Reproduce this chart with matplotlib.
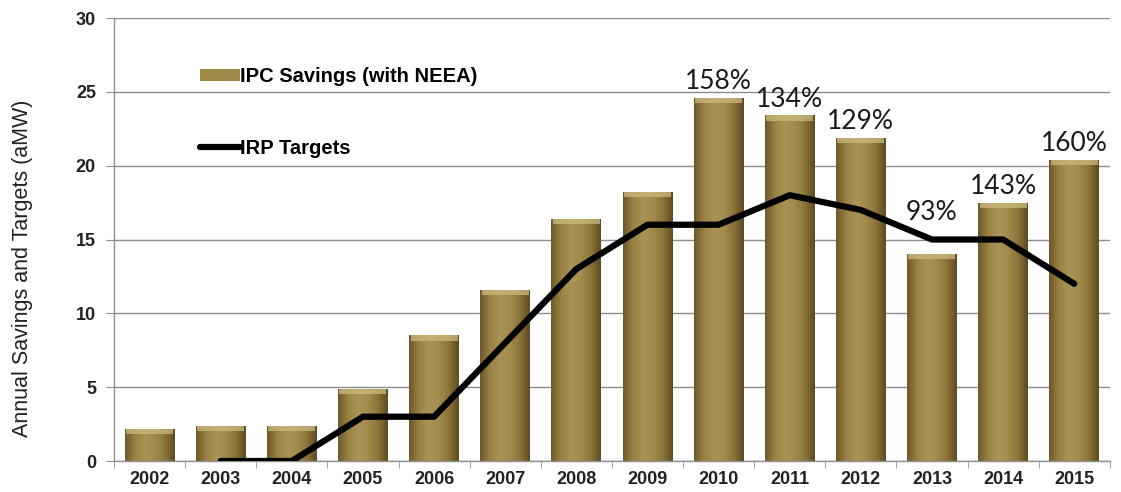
import numpy as np
import matplotlib
matplotlib.use("Agg")
import matplotlib.pyplot as plt
from matplotlib.colors import LinearSegmentedColormap

years = ["2002", "2003", "2004", "2005", "2006", "2007", "2008",
         "2009", "2010", "2011", "2012", "2013", "2014", "2015"]
savings = [2.2, 2.4, 2.4, 4.9, 8.5, 11.6, 16.4, 18.2, 24.6, 23.4, 21.9, 14.0, 17.5, 20.4]
target_years = ["2003", "2004", "2005", "2006", "2007", "2008", "2009",
                "2010", "2011", "2012", "2013", "2014", "2015"]
targets = [0, 0, 3, 3, 8, 13, 16, 16, 18, 17, 15, 15, 12]
pct_years = ["2010", "2011", "2012", "2013", "2014", "2015"]
pct_labels = ["158%", "134%", "129%", "93%", "143%", "160%"]

fig = plt.figure(figsize=(11.21, 4.92), dpi=100)
ax = fig.add_axes([0.1017, 0.063, 0.8883, 0.9004])

x = np.arange(len(years))
tx = [years.index(y) for y in target_years]
target_by_year = dict(zip(target_years, targets))

bars = ax.bar(x, savings, width=0.7, color="#a08848", edgecolor="none",
              zorder=2, label="IPC Savings (with NEEA)")

# metallic shading across each bar
shade = LinearSegmentedColormap.from_list(
    "gold", ["#6e5a2a", "#9a8244", "#a99356", "#a38b4e", "#8d7539", "#5e4c22"])
grad = np.linspace(0, 1, 64).reshape(1, -1)
for b in bars:
    x0, w, h = b.get_x(), b.get_width(), b.get_height()
    im = ax.imshow(grad, cmap=shade, aspect="auto",
                   extent=(x0, x0 + w, 0, h), zorder=2.1)
    im.set_clip_path(b)
    # lighter bevel at the top of the bar
    cap = min(0.35, h * 0.3)
    ax.fill_between([x0 + 0.02, x0 + w - 0.02], h - cap, h,
                    color="#cdb980", alpha=0.75, zorder=2.2, lw=0)

ax.plot(tx, targets, color="black", lw=4.5, solid_capstyle="round",
        solid_joinstyle="round", zorder=3, label="IRP Targets")

# percentage of target achieved, placed above the bar (or above the line)
for yr, lab in zip(pct_years, pct_labels):
    i = years.index(yr)
    base = max(savings[i], target_by_year.get(yr, 0) + 0.7)
    ax.text(i, base + 0.25, lab, ha="center", va="bottom",
            fontsize=19, family="Lato", color="#1a1a1a", zorder=4)

ax.set_xlim(-0.5, len(years) - 0.5)
ax.set_ylim(0, 30)
ax.set_yticks(range(0, 31, 5))
ax.set_xticks(x)
ax.set_xticklabels(years)
ax.set_xticks(np.arange(-0.5, len(years), 1), minor=True)
ax.tick_params(axis="x", which="major", length=0, pad=7, labelsize=13)
ax.tick_params(axis="x", which="minor", length=5, color="#909090", direction="out")
ax.tick_params(axis="y", length=6, color="#909090", labelsize=13, pad=7)
for lab in ax.get_xticklabels() + ax.get_yticklabels():
    lab.set_fontweight("bold")
    lab.set_family("Liberation Sans")
    lab.set_color("#222222")

ax.grid(axis="y", color="#8c8c8c", lw=1.0, zorder=0)
ax.set_axisbelow(True)
for s in ["top", "right"]:
    ax.spines[s].set_visible(False)
for s in ["left", "bottom"]:
    ax.spines[s].set_color("#909090")
    ax.spines[s].set_linewidth(1.0)

ax.set_ylabel("Annual Savings and Targets (aMW)", fontsize=15.5,
              family="Liberation Sans", color="#222222")
ax.yaxis.set_label_coords(-0.081, 0.436)

handles, labels = ax.get_legend_handles_labels()
order = [labels.index("IPC Savings (with NEEA)"), labels.index("IRP Targets")]
leg = ax.legend([handles[k] for k in order], [labels[k] for k in order],
                loc="upper left", bbox_to_anchor=(0.068, 0.93), frameon=False,
                prop={"family": "Liberation Sans", "weight": "bold", "size": 14.5},
                handlelength=2.0, handletextpad=0.0, labelspacing=2.6,
                handleheight=0.5)

fig.savefig("out.png", dpi=100)
